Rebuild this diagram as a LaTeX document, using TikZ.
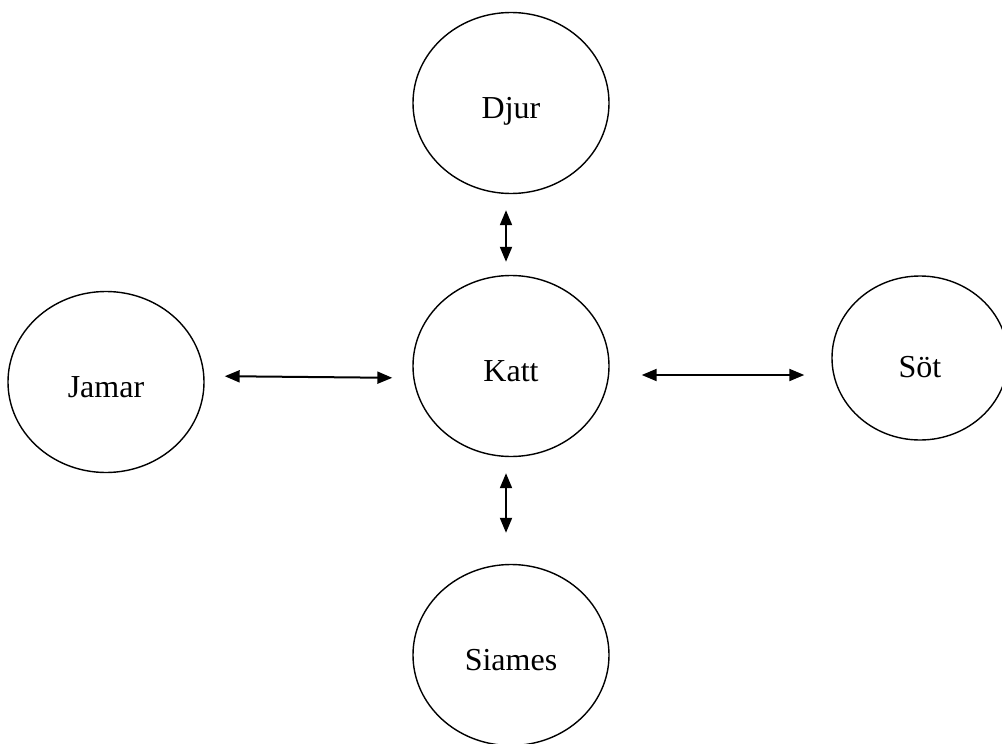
\documentclass[tikz,border=0pt]{standalone}
\usepackage{fontspec}
\setmainfont{Liberation Serif}
\usetikzlibrary{positioning,shapes.geometric,arrows.meta}

\begin{document}
\begin{tikzpicture}[x=1pt,y=-1pt,>={Triangle[length=15pt,width=12pt]},
                main node/.style={ellipse,draw,line width=1.4pt,minimum width=196pt,minimum height=181pt,inner sep=0pt,
                                  text height=30pt,text depth=0pt,font=\fontsize{32}{38}\selectfont},
                link/.style={<->,line width=2pt}]
\useasboundingbox (0,0) rectangle (1002,744);
%Nodes
    \node[main node] (Djur) at (511,103) {Djur};
    \node[main node] (Katt) at (511,366) {Katt};
    \node[main node] (Jamar) at (106,382) {Jamar};
    \node[main node, minimum width=176pt, minimum height=164pt, text height=38pt] (Sot) at (920,358) {Söt};
    \node[main node] (Siames) at (511,655) {Siames};

%Links
    \path[link, shorten <=16pt, shorten >=13pt] ([xshift=-5pt]Djur.south) edge ([xshift=-5pt]Katt.north);
    \path[link, shorten <=16pt, shorten >=31pt] ([xshift=-5pt]Katt.south) edge ([xshift=-5pt]Siames.north);
    \path[link, shorten <=20pt, shorten >=20pt] ([yshift=6pt]Jamar.east) edge ([yshift=-12pt]Katt.west);
    \path[link, shorten <=32pt, shorten >=27pt] ([yshift=-9pt]Katt.east) edge ([yshift=-17pt]Sot.west);
\end{tikzpicture}
\end{document}
